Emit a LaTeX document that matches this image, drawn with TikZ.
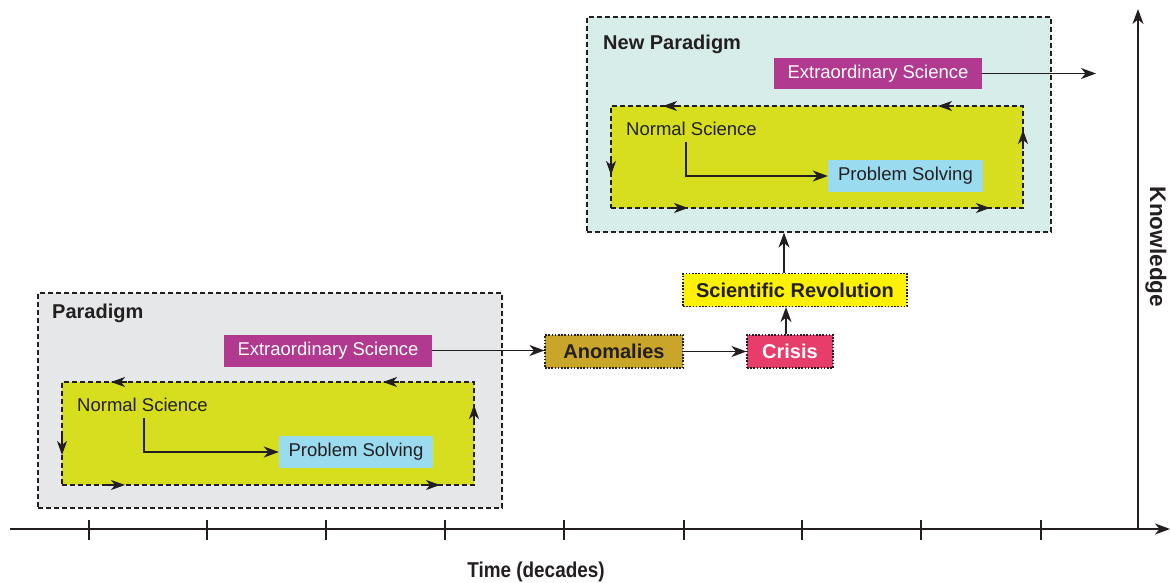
\documentclass[tikz,border=0pt]{standalone}
\usepackage{fontspec}
\setmainfont{Liberation Sans}
\usetikzlibrary{arrows.meta,calc}
\definecolor{txt}{HTML}{231F20}
\definecolor{paragray}{HTML}{E6E7E9}
\definecolor{parateal}{HTML}{D7EDE9}
\definecolor{normalg}{HTML}{D6DE1E}
\definecolor{extram}{HTML}{B1398F}
\definecolor{probb}{HTML}{9BDBF0}
\definecolor{anomg}{HTML}{C9A52A}
\definecolor{crisr}{HTML}{E83C6A}
\definecolor{revy}{HTML}{FFF200}
\tikzset{
  tip/.tip={Stealth[length=15pt,width=11pt,inset=4.5pt]},
  stip/.tip={Stealth[length=14pt,width=10pt,inset=4pt]},
  bigbox/.style={draw=txt, line width=1.1pt, dash pattern=on 5pt off 3pt, inner sep=0pt},
  flowbox/.style={draw=txt, line width=1.1pt, dash pattern=on 1.6pt off 1.6pt, inner sep=0pt, font=\fontsize{20}{24}\selectfont\bfseries, text=txt},
  solidbox/.style={inner sep=0pt, font=\fontsize{18.5}{22}\selectfont},
  conn/.style={draw=txt, line width=1.5pt, -tip},
  edgearrow/.style={draw=txt, line width=1.2pt, -stip},
  lbl/.style={font=\fontsize{18.5}{22}\selectfont, text=txt, inner sep=0pt},
  blbl/.style={font=\fontsize{20}{24}\selectfont\bfseries, text=txt, inner sep=0pt},
}
\begin{document}
\begin{tikzpicture}[x=1pt,y=-1pt]
\useasboundingbox (0,0) rectangle (1171,583);
% axes
\coordinate (o) at (1138,529);
\coordinate (xend) at (1170,529);
\coordinate (xstart) at (10,529);
\coordinate (ytop) at (1138,9);
\draw[txt, line width=1.4pt, -tip] (xstart) -- (xend);
\draw[txt, line width=1.4pt, -tip] (o) -- (ytop);
\foreach \x in {89,207,326,445,564,684,802,921,1041}
  \draw[txt, line width=1.4pt] (\x,520) -- (\x,540);
\node[blbl, font=\fontsize{21.5}{24}\selectfont\bfseries] (time) at (536,572) {\scalebox{0.88}[1]{Time (decades)}};
\node[blbl, rotate=-90, font=\fontsize{22.5}{26}\selectfont\bfseries] (know) at (1156,247) {Knowledge};

% Paradigm
\node[bigbox, fill=paragray, minimum width=464pt, minimum height=215pt] (par) at (270,400.5) {};
\node[blbl, anchor=west] (partitle) at (52,313) {Paradigm};
\node[solidbox, fill=extram, text=white, minimum width=208pt, minimum height=32pt] (ex1) at (328,350.5) {Extraordinary Science};
\node[bigbox, fill=normalg, minimum width=412pt, minimum height=103pt] (in1) at (268,433.5) {};
\node[lbl, anchor=west] (ns1) at (77,405) {Normal Science};
\node[solidbox, fill=probb, text=txt, minimum width=154pt, minimum height=32pt] (ps1) at (356,452) {Problem Solving};
\coordinate (ns1d) at (144,418);
\draw[conn] (ns1d) |- (ps1.west);
% border arrows
\draw[edgearrow] (127,382) -- (111,382);
\draw[edgearrow] (399,382) -- (383,382);
\draw[edgearrow] (62,436) -- (62,455);
\draw[edgearrow] (474,424) -- (474,405);
\draw[edgearrow] (106,485) -- (125,485);
\draw[edgearrow] (421,485) -- (440,485);

% flow
\node[flowbox, fill=anomg, minimum width=138pt, minimum height=33pt] (anom) at (614,351.5) {Anomalies};
\node[flowbox, fill=crisr, text=white, minimum width=86pt, minimum height=33pt] (cris) at (790,351.5) {Crisis};
\node[flowbox, fill=revy, minimum width=224pt, minimum height=33pt] (rev) at (795,290) {Scientific Revolution};
\draw[conn] (ex1.east) -- (ex1.east -| anom.west);
\draw[conn] (anom.east) -- (anom.east -| cris.west);
\path (cris.north) ++(-4,0) coordinate (c1);
\draw[conn] (c1) -- (c1 |- rev.south);

% New Paradigm
\node[bigbox, fill=parateal, minimum width=464pt, minimum height=215pt] (np) at (819,124.5) {};
\node[blbl, anchor=west] (nptitle) at (603,44) {New Paradigm};
\node[solidbox, fill=extram, text=white, minimum width=208pt, minimum height=31pt] (ex2) at (878,73.5) {Extraordinary Science};
\node[bigbox, fill=normalg, minimum width=412pt, minimum height=102pt] (in2) at (817,157) {};
\node[lbl, anchor=west] (ns2) at (626,129) {Normal Science};
\node[solidbox, fill=probb, text=txt, minimum width=155pt, minimum height=32pt] (ps2) at (905.5,176) {Problem Solving};
\coordinate (ns2d) at (686,142);
\draw[conn] (ns2d) |- (ps2.west);
\coordinate (exend) at (1096,73.5);
\draw[conn] (ex2.east) -- (exend);
\path (rev.north) ++(-11,0) coordinate (r1);
\draw[conn] (r1) -- (r1 |- np.south);
% border arrows
\draw[edgearrow] (679,106) -- (663,106);
\draw[edgearrow] (954,106) -- (938,106);
\draw[edgearrow] (611,156) -- (611,175);
\draw[edgearrow] (1023,149) -- (1023,130);
\draw[edgearrow] (669,208) -- (688,208);
\draw[edgearrow] (971,208) -- (990,208);
\end{tikzpicture}
\end{document}
